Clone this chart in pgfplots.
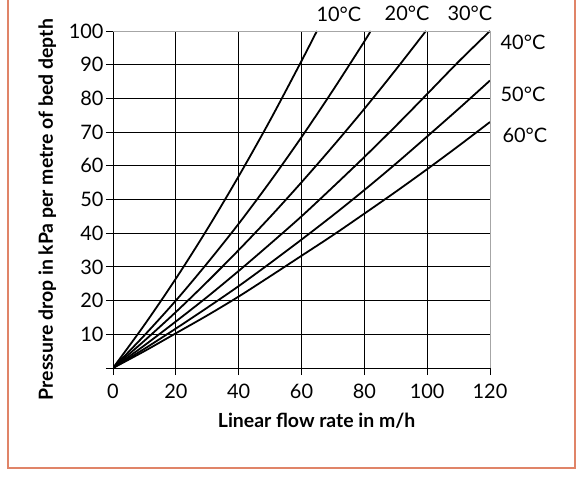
\documentclass[border=0pt]{standalone}
\usepackage{pgfplots}
\pgfplotsset{compat=1.18}
\usepackage{fontspec}
\setmainfont{Lato}
\definecolor{boxline}{RGB}{224,132,104}

\begin{document}
\begin{tikzpicture}
\path[use as bounding box] (0bp,0bp) rectangle (582bp,477bp);
\draw[boxline, line width=1.5bp] (8bp,477bp) -- (8bp,9bp) -- (575bp,9bp) -- (575bp,477bp);
\begin{axis}[
  at={(113bp,109bp)}, anchor=south west,
  scale only axis, width=377bp, height=337bp,
  xmin=0, xmax=120, ymin=0, ymax=100,
  xtick={0,20,40,60,80,100,120},
  ytick={0,10,20,30,40,50,60,70,80,90,100},
  yticklabels={,10,20,30,40,50,60,70,80,90,100},
  axis lines*=left,
  axis line style={-, black, line width=0.9bp},
  tick align=outside, major tick length=7bp,
  tick style={black, line width=0.9bp},
  grid=major, grid style={black, line width=0.8bp},
  ticklabel style={font=\fontsize{20}{20}\selectfont},
  xticklabel style={yshift=-6bp},
  yticklabel style={xshift=1bp},
  /pgf/number format/assume math mode=true,
  clip mode=individual,
  xlabel={Linear flow rate in m/h},
  ylabel={Pressure drop in kPa per metre of bed depth},
  xlabel style={font=\bfseries\fontsize{19.5}{19.5}\selectfont, at={(axis description cs:0.54,0)}, anchor=center, yshift=-53bp},
  ylabel style={font=\bfseries\fontsize{19.5}{19.5}\selectfont, at={(axis description cs:-0.174,0.47)}, anchor=center},
]
% 10 C
\addplot[black, line width=1.8bp, smooth] coordinates {
  (0,0) (10,12.8) (20,26.5) (30,41.2) (40,56.9) (50,73.5) (60,91.1) (64.9,100)
};
% 20 C
\addplot[black, line width=1.8bp, smooth] coordinates {
  (0,0) (10,9.7) (20,20.0) (30,31.1) (40,42.8) (50,55.3) (60,68.5) (70,82.4) (80,96.9) (82,100)
};
% 30 C
\addplot[black, line width=1.8bp, smooth] coordinates {
  (0,0) (10,8.1) (20,16.6) (30,25.6) (40,35.0) (50,44.8) (60,55.1) (70,65.8) (80,76.9) (90,88.5) (99.6,100)
};
% 40 C
\addplot[black, line width=1.8bp, smooth] coordinates {
  (0,0) (10,6.7) (20,13.8) (30,21.1) (40,28.8) (50,36.8) (60,45.0) (70,53.7) (80,62.6) (90,71.8) (100,81.3) (110,90.9) (120,100)
};
% 50 C
\addplot[black, line width=1.8bp, smooth] coordinates {
  (0,0) (10,5.7) (20,11.7) (30,17.9) (40,24.3) (50,31.1) (60,38.1) (70,45.3) (80,52.8) (90,60.6) (100,68.7) (110,76.9) (120,85.3)
};
% 60 C
\addplot[black, line width=1.8bp, smooth] coordinates {
  (0,0) (10,5.0) (20,10.3) (30,15.6) (40,21.2) (50,27.2) (60,33.3) (70,39.4) (80,45.8) (90,52.3) (100,59.0) (110,65.9) (120,73.0)
};

\draw[gray!70, line width=0.9bp] (rel axis cs:0,1) -- (rel axis cs:1,1) -- (rel axis cs:1,0);

\begin{scope}[every node/.style={font=\fontsize{20}{20}\selectfont, inner sep=0pt}]
\node at (axis cs:71.9,105.0) {10°C};
\node at (axis cs:93.6,105.3) {20°C};
\node at (axis cs:113.6,105.3) {30°C};
\node at (axis cs:130.5,96.7) {40°C};
\node at (axis cs:130.5,81.3) {50°C};
\node at (axis cs:131.1,69.1) {60°C};
\end{scope}
\end{axis}
\end{tikzpicture}
\end{document}
